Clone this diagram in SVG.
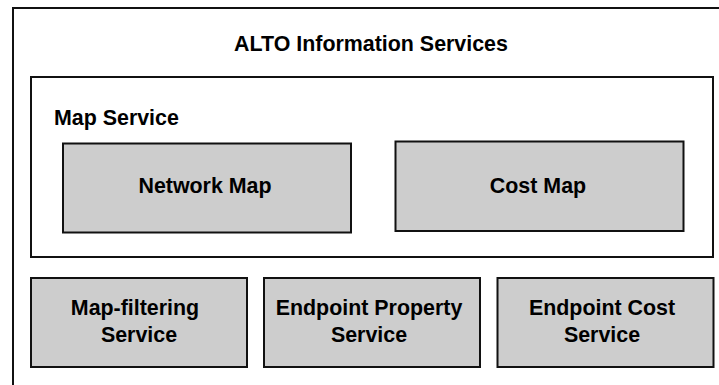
<svg xmlns="http://www.w3.org/2000/svg" width="719" height="385" viewBox="0 0 719 385">
<style>
.frame{fill:#fff;stroke:#111;stroke-width:2}
.box{fill:#cdcdcd;stroke:#111;stroke-width:2}
text{font-family:"Liberation Sans",Arial,Helvetica,sans-serif;font-weight:bold;font-size:21.4px;fill:#000}
.c{text-anchor:middle}
</style>
<rect width="719" height="385" fill="#fff"/>
<g id="alto-information-services">
<rect class="frame" x="13" y="8" width="730" height="400"/>
<text class="c" x="371" y="51">ALTO Information Services</text>
</g>
<g id="map-service">
<rect class="frame" x="31" y="77" width="682" height="180"/>
<text x="54" y="125">Map Service</text>
</g>
<g id="network-map">
<rect class="box" x="63" y="143.5" width="288" height="89"/>
<text class="c" x="205" y="193">Network Map</text>
</g>
<g id="cost-map">
<rect class="box" x="395.5" y="141.5" width="288" height="89.5"/>
<text class="c" x="538" y="193">Cost Map</text>
</g>
<g id="map-filtering-service">
<rect class="box" x="31" y="278" width="216" height="89"/>
<text class="c" x="135" y="315">Map-filtering</text>
<text class="c" x="139" y="342">Service</text>
</g>
<g id="endpoint-property-service">
<rect class="box" x="264" y="278" width="216" height="89"/>
<text class="c" x="369" y="315">Endpoint Property</text>
<text class="c" x="369" y="342">Service</text>
</g>
<g id="endpoint-cost-service">
<rect class="box" x="497.5" y="278" width="216" height="89"/>
<text class="c" x="602" y="315">Endpoint Cost</text>
<text class="c" x="602" y="342">Service</text>
</g>
<g id="connectors"></g>
</svg>
